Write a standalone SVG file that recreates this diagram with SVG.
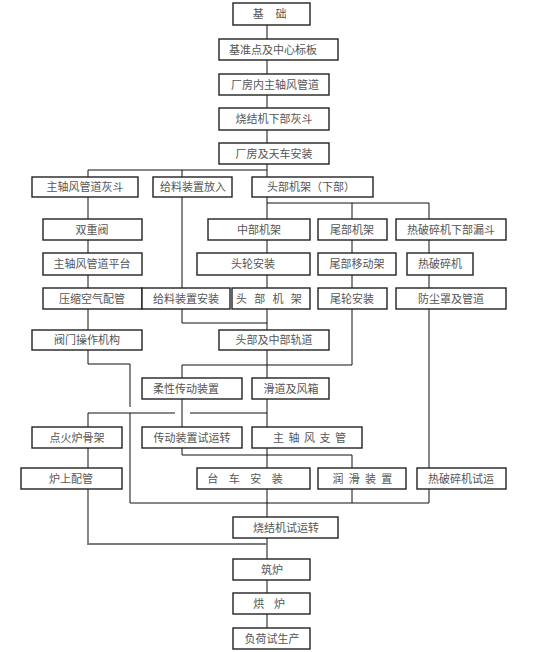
<svg xmlns="http://www.w3.org/2000/svg" width="554" height="652" viewBox="0 0 554 652">
<style>
.b{fill:#fff;stroke:#222;stroke-width:1.4}
.t{font-family:"Noto Sans CJK SC","Noto Sans CJK TC",sans-serif;font-size:11px;fill:#555;text-anchor:middle}
.k{fill:none;stroke:#111;stroke-width:1}
.g{fill:none;stroke:#7a7a7a;stroke-width:1.8}
</style>
<rect width="554" height="652" fill="#fff"/>
<g id="connectors">
<path class="g" d="M267,25V39 M267,60V74 M267,95V108 M267,130V143 M267,164V177"/>
<path class="g" d="M267,489V517 M267,538V559 M267,580V593 M267,614V628 M88,489V544H267"/>
<path class="k" d="M88,170H267 M88,170V177 M182,170V177"/>
<path class="k" d="M88,197V219 M88,240V253 M88,275V288 M88,309V330 M88,350V364H130V407 M130,413V503H429"/>
<path class="k" d="M182,197V288 M182,309V323H267"/>
<path class="k" d="M267,197V219 M267,240V253 M267,275V288 M267,309V330 M267,350V378 M267,399V427 M267,448V468"/>
<path class="k" d="M267,203H429 M352,203V219 M429,203V219"/>
<path class="k" d="M352,240V253 M352,275V288 M352,309V365H182V378"/>
<path class="k" d="M429,240V253 M429,275V288 M429,309V468 M429,489V503"/>
<path class="k" d="M88,427V413H175 M190,413H267"/>
<path class="k" d="M182,399V427 M182,448V455H352V468 M352,489V503 M88,448V468"/>
</g>
<g id="n1"><rect class="b" x="233" y="3" width="77" height="22"/><text class="t" x="272" y="18" style="letter-spacing:4.7px">基 础</text></g>
<g id="n2"><rect class="b" x="219" y="39" width="119" height="21"/><text class="t" x="273" y="54">基准点及中心标板</text></g>
<g id="n3"><rect class="b" x="219" y="74" width="110" height="21"/><text class="t" x="275" y="89">厂房内主轴风管道</text></g>
<g id="n4"><rect class="b" x="219" y="108" width="110" height="22"/><text class="t" x="274" y="123">烧结机下部灰斗</text></g>
<g id="n5"><rect class="b" x="219" y="143" width="110" height="21"/><text class="t" x="274" y="158">厂房及天车安装</text></g>
<g id="n6"><rect class="b" x="32" y="177" width="106" height="20"/><text class="t" x="85" y="191">主轴风管道灰斗</text></g>
<g id="n7"><rect class="b" x="153" y="177" width="79" height="20"/><text class="t" x="193" y="191">给料装置放入</text></g>
<g id="n8"><rect class="b" x="252" y="177" width="121" height="20"/><text class="t" x="311" y="191">头部机架（下部）</text></g>
<g id="n9"><rect class="b" x="43" y="219" width="99" height="21"/><text class="t" x="92" y="234">双重阀</text></g>
<g id="n10"><rect class="b" x="208" y="219" width="102" height="21"/><text class="t" x="259" y="234">中部机架</text></g>
<g id="n11"><rect class="b" x="318" y="219" width="69" height="21"/><text class="t" x="352" y="234">尾部机架</text></g>
<g id="n12"><rect class="b" x="396" y="219" width="110" height="21"/><text class="t" x="451" y="234">热破碎机下部漏斗</text></g>
<g id="n13"><rect class="b" x="43" y="253" width="99" height="22"/><text class="t" x="92" y="268">主轴风管道平台</text></g>
<g id="n14"><rect class="b" x="197" y="253" width="113" height="22"/><text class="t" x="253" y="268">头轮安装</text></g>
<g id="n15"><rect class="b" x="318" y="253" width="78" height="22"/><text class="t" x="357" y="268">尾部移动架</text></g>
<g id="n16"><rect class="b" x="407" y="253" width="66" height="22"/><text class="t" x="440" y="268">热破碎机</text></g>
<g id="n17"><rect class="b" x="43" y="288" width="99" height="21"/><text class="t" x="92" y="303">压缩空气配管</text></g>
<g id="n18"><rect class="b" x="142" y="288" width="88" height="21"/><text class="t" x="186" y="303">给料装置安装</text></g>
<g id="n19"><rect class="b" x="232" y="288" width="78" height="21"/><text class="t" x="270" y="303" style="letter-spacing:2.4px">头 部 机 架</text></g>
<g id="n20"><rect class="b" x="318" y="288" width="69" height="21"/><text class="t" x="352" y="303">尾轮安装</text></g>
<g id="n21"><rect class="b" x="396" y="288" width="110" height="21"/><text class="t" x="451" y="303">防尘罩及管道</text></g>
<g id="n22"><rect class="b" x="32" y="330" width="110" height="20"/><text class="t" x="87" y="344">阀门操作机构</text></g>
<g id="n23"><rect class="b" x="219" y="330" width="110" height="20"/><text class="t" x="274" y="344">头部及中部轨道</text></g>
<g id="n24"><rect class="b" x="142" y="378" width="100" height="21"/><text class="t" x="186" y="393">柔性传动装置</text></g>
<g id="n25"><rect class="b" x="252" y="378" width="77" height="21"/><text class="t" x="291" y="393">滑道及风箱</text></g>
<g id="n26"><rect class="b" x="32" y="427" width="90" height="21"/><text class="t" x="77" y="442">点火炉骨架</text></g>
<g id="n27"><rect class="b" x="142" y="427" width="100" height="21"/><text class="t" x="192" y="442">传动装置试运转</text></g>
<g id="n28"><rect class="b" x="252" y="427" width="110" height="21"/><text class="t" x="310" y="442" style="letter-spacing:1px">主 轴 风 支 管</text></g>
<g id="n29"><rect class="b" x="21" y="468" width="101" height="21"/><text class="t" x="71" y="483">炉上配管</text></g>
<g id="n30"><rect class="b" x="197" y="468" width="113" height="21"/><text class="t" x="247" y="483" style="letter-spacing:4px">台 车 安 装</text></g>
<g id="n31"><rect class="b" x="318" y="468" width="88" height="21"/><text class="t" x="363" y="483" style="letter-spacing:1.4px">润 滑 装 置</text></g>
<g id="n32"><rect class="b" x="417" y="468" width="89" height="21"/><text class="t" x="461" y="483">热破碎机试运</text></g>
<g id="n33"><rect class="b" x="233" y="517" width="105" height="21"/><text class="t" x="286" y="532">烧结机试运转</text></g>
<g id="n34"><rect class="b" x="233" y="559" width="77" height="21"/><text class="t" x="272" y="574">筑炉</text></g>
<g id="n35"><rect class="b" x="233" y="593" width="77" height="21"/><text class="t" x="271" y="608" style="letter-spacing:3.7px">烘 炉</text></g>
<g id="n36"><rect class="b" x="233" y="628" width="77" height="21"/><text class="t" x="272" y="643">负荷试生产</text></g>
</svg>
